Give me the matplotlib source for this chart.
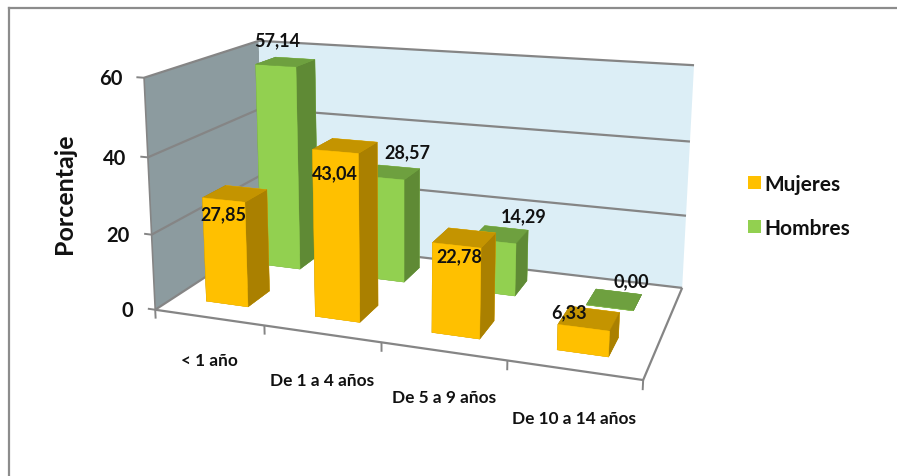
import numpy as np
import matplotlib
matplotlib.use("Agg")
import matplotlib.pyplot as plt
from matplotlib.lines import Line2D
from matplotlib.patches import Patch
from mpl_toolkits.mplot3d.art3d import Poly3DCollection, Line3DCollection

# ---- data ----
categories = ["< 1 año", "De 1 a 4 años", "De 5 a 9 años", "De 10 a 14 años"]
mujeres = [27.85, 43.04, 22.78, 6.33]
hombres = [57.14, 28.57, 14.29, 0.00]
value_ticks = [0, 20, 40, 60]
mujeres_labels = ["27,85", "43,04", "22,78", "6,33"]
hombres_labels = ["57,14", "28,57", "14,29", "0,00"]

# ---- camera calibration: world (category, row, value) -> picture pixel ----
cal_world = np.array([(0,0,0),(1,0,0),(2,0,0),(3,0,0),(4,0,0),(4,2,0),(0,2,0),
                      (0,0,20),(0,0,40),(0,0,60),(0,2,60),(4,2,60),(4,2,40),(4,2,20)], float)
cal_pixel = np.array([(157,310),(265,325),(382,347),(507,363),(642,380),(683,288),(262,240),
                      (152,236),(147,157),(143,78),(260,43),(694,67),(690,142),(686,216)], float)

def camera_matrix(w, p):
    A, b = [], []
    for (x, y, z), (u, v) in zip(w, p):
        A.append([x, y, z, 1, 0, 0, 0, 0, -u*x, -u*y, -u*z]); b.append(u)
        A.append([0, 0, 0, 0, x, y, z, 1, -v*x, -v*y, -v*z]); b.append(v)
    s = np.linalg.lstsq(np.array(A), np.array(b), rcond=None)[0]
    return np.array([s[:4], s[4:8], [0, 0, 0, -1], [*s[8:], 1]])

M = camera_matrix(cal_world, cal_pixel)

def project(x, y, z):
    v = M @ np.array([x, y, z, 1.0])
    return v[0] / v[3], v[1] / v[3]

W, H = 897, 477
fig = plt.figure(figsize=(W / 100, H / 100), dpi=100, facecolor="white")
ax = fig.add_axes([0, 0, 1, 1], projection="3d", computed_zorder=False)
ax.set_axis_off()
ax.apply_aspect = lambda *a, **k: None
ax.get_proj = lambda: M
ax.viewLim.intervalx = (0, W)
ax.viewLim.intervaly = (H, 0)

GRID = "#858585"
LEFT_WALL = "#8C9B9F"
BACK_WALL = "#DCEEF6"
TEXT = "#111111"
xmax, ymax, zmax = len(categories), 2, value_ticks[-1]

ax.add_collection3d(Poly3DCollection([[(0,0,0),(0,ymax,0),(0,ymax,zmax),(0,0,zmax)]],
                                     facecolors=LEFT_WALL, edgecolors="none", zorder=1))
ax.add_collection3d(Poly3DCollection([[(0,ymax,0),(xmax,ymax,0),(xmax,ymax,zmax),(0,ymax,zmax)]],
                                     facecolors=BACK_WALL, edgecolors="none", zorder=1))

def line3(points, lw=1.6):
    ax.add_collection3d(Line3DCollection([points], colors=GRID, linewidths=lw, zorder=2))

for v in value_ticks:
    line3([(0, 0, v), (0, ymax, v), (xmax, ymax, v)])
    line3([(0, 0, v), (-0.07, 0, v)], lw=1.4)
    px, py = project(0, 0, v)
    ax.text2D(px - 22, py + 0.5, str(v), transform=ax.transData, ha="right", va="center",
              family="Lato", fontsize=14.5, fontweight="bold", color=TEXT)
line3([(0, 0, 0), (0, 0, zmax)], lw=1.2)
line3([(0, 0, 0), (xmax, 0, 0), (xmax, ymax, 0)])
for i in range(xmax + 1):
    line3([(i, 0, 0), (i, 0, -2.4)], lw=1.4)

cat_centres = [(209, 361), (322, 381), (444, 398), (574, 419)]
for name, (cx, cy) in zip(categories, cat_centres):
    ax.text2D(cx, cy, name, transform=ax.transData, ha="center", va="center",
              family="Lato", fontsize=12.4, fontweight="bold", color=TEXT)

ax.text2D(64, 193.5, "Porcentaje", transform=ax.transData, rotation=90, ha="center", va="center",
          family="Lato", fontsize=18, fontweight="bold", color=TEXT)

# ---- bars ----
BAR_DX, BAR_DY = 0.39, 0.40
M_X0, H_X0, ROW_Y0 = 0.30, 0.31, 0.32

def bar(i, x0, row, value, front, side, top, order):
    colours = [top, top, front, front, side, side]
    ax.bar3d(i + x0, row + ROW_Y0, 0, BAR_DX, BAR_DY, value, color=colours,
             shade=False, edgecolor=colours, linewidth=0.3, zorder=order)

for i, v in enumerate(hombres):
    bar(i, H_X0, 1, v, "#92D050", "#5F8A35", "#6EA03F", 3 + i)
for i, v in enumerate(mujeres):
    bar(i, M_X0, 0, v, "#FFC000", "#AA8000", "#C49400", 10 + i)

def value_label(px, py, s):
    ax.text2D(px, py, s, transform=ax.transData, ha="center", va="center", zorder=30,
              family="Lato", fontsize=13, fontweight="bold", color=TEXT)

hombres_offset = [(1, -26), (25, -26), (30, -26), (22, -27)]
mujeres_offset = [(0, 14), (0, 21), (3, 10), (-14, -16)]
for i, s in enumerate(hombres_labels):
    px, py = project(i + H_X0 + BAR_DX / 2, 1 + ROW_Y0, hombres[i])
    value_label(px + hombres_offset[i][0], py + hombres_offset[i][1], s)
for i, s in enumerate(mujeres_labels):
    px, py = project(i + M_X0 + BAR_DX / 2, ROW_Y0, mujeres[i])
    value_label(px + mujeres_offset[i][0], py + mujeres_offset[i][1], s)

# ---- legend ----
leg = ax.legend(handles=[Patch(facecolor="#FFC000", label="Mujeres"),
                         Patch(facecolor="#92D050", label="Hombres")],
                loc="center left", bbox_to_anchor=(748 / W, 1 - 207 / H),
                bbox_transform=fig.transFigure, frameon=False, handlelength=0.6,
                handleheight=0.6, handletextpad=0.2, labelspacing=1.15,
                borderpad=0, borderaxespad=0,
                prop={"family": "Lato", "size": 15, "weight": "bold"})
for t in leg.get_texts():
    t.set_color(TEXT)

# ---- picture frame ----
for xs, ys in [((8.5, 8.5), (8.5, H)), ((8.5, W), (8.5, 8.5))]:
    fig.add_artist(Line2D([x / W for x in xs], [1 - y / H for y in ys], color="#8C8C8C", lw=1.6))

fig.savefig("out.png", dpi=100)
